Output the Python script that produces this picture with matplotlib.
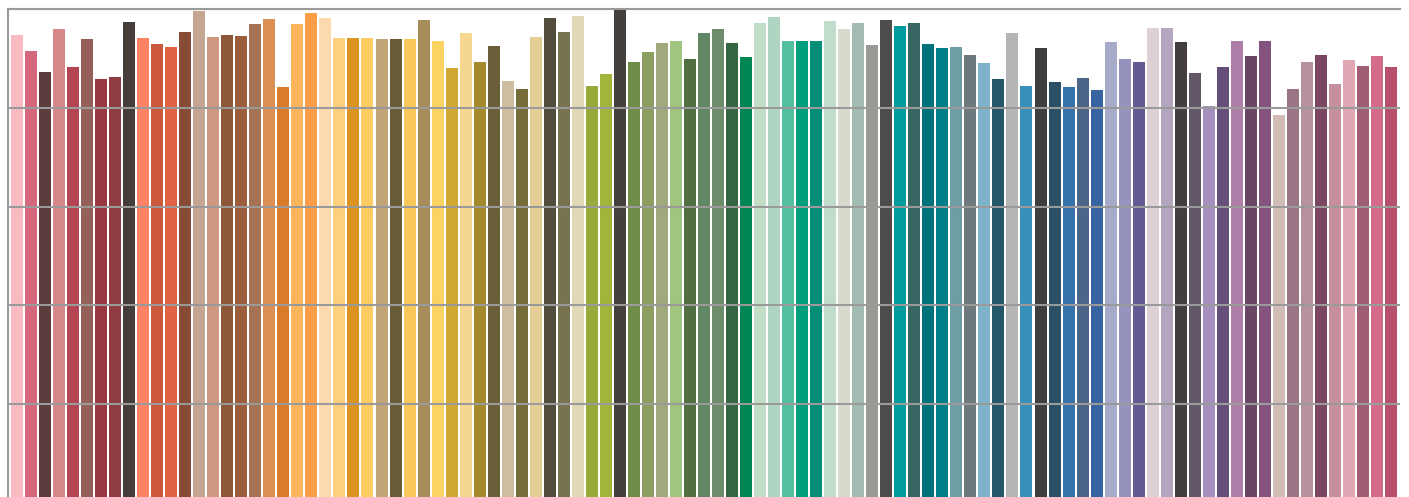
import matplotlib
matplotlib.use('Agg')
import matplotlib.pyplot as plt

# bar heights (0-100 scale, gridlines every 20)
values = [94.8, 91.5, 87.3, 96.0, 88.3, 94.0, 85.9, 86.3, 97.4, 94.2,
          93.0, 92.4, 95.4, 99.6, 94.4, 94.8, 94.6, 97.0, 98.0, 84.3,
          97.0, 99.2, 98.2, 94.2, 94.2, 94.2, 94.0, 94.0, 94.0, 97.8,
          93.6, 88.1, 95.2, 89.3, 92.6, 85.5, 83.8, 94.4, 98.2, 95.4,
          98.6, 84.5, 86.9, 99.8, 89.3, 91.3, 93.2, 93.6, 89.9, 95.2,
          96.0, 93.2, 90.3, 97.2, 98.4, 93.6, 93.6, 93.6, 97.6, 96.0,
          97.2, 92.8, 97.8, 96.6, 97.2, 93.0, 92.2, 92.4, 90.7, 89.1,
          85.9, 95.2, 84.5, 92.2, 85.3, 84.3, 86.1, 83.6, 93.4, 89.9,
          89.3, 96.2, 96.2, 93.4, 87.1, 80.4, 88.3, 93.6, 90.5, 93.6,
          78.6, 83.8, 89.3, 90.7, 84.9, 89.7, 88.5, 90.5, 88.3]

colors = ['#F9BBC1', '#D4677B', '#5C3B3D', '#D68787', '#B54553', '#96605A', '#9A3842', '#8E3C41', '#453D3A', '#FF8265',
          '#CB573D', '#E26245', '#874B36', '#C5A693', '#D09880', '#8E5737', '#9A5E3C', '#A57354', '#DC8F52', '#DA7B2A',
          '#FDB55C', '#FD9E46', '#FDDAAE', '#FED07E', '#DC9320', '#FFCC62', '#C2A677', '#6A5B37', '#F8C95A', '#A78D5B',
          '#FBD362', '#D1A932', '#F5D792', '#A5892D', '#6A5D37', '#CFBDA2', '#766C39', '#E3CF93', '#514C3C', '#77734E',
          '#E1D8B5', '#99A93A', '#A2B43A', '#45403B', '#6E8E48', '#8D9E63', '#A0A87E', '#A0C57E', '#516F40', '#618765',
          '#6D8C6C', '#356642', '#008555', '#C1DEC8', '#AFD5C2', '#52BF9F', '#009E7C', '#008F77', '#C0DDCC', '#D9DACE',
          '#A2BCB2', '#999A95', '#4D4C4A', '#009C9D', '#376663', '#00727A', '#007E87', '#6C9EA3', '#6D797D', '#7EB3CB',
          '#25576A', '#B4B5B4', '#3690BA', '#403E3D', '#2C4F68', '#3571AA', '#4A6587', '#3764A0', '#A5ABC8', '#9593BC',
          '#645A92', '#DED1D6', '#B4A6BF', '#433D41', '#625766', '#A58FBE', '#664E7A', '#AE7EA9', '#6B4566', '#83527E',
          '#D1BDB5', '#9B7585', '#B5929D', '#7B4661', '#C7909F', '#E1A7B5', '#A05E74', '#D56B8A', '#B7506D']

W, H = 1409, 497
fig = plt.figure(figsize=(W / 100, H / 100), dpi=100)
ax = fig.add_axes([8 / W, (H - 503) / H, 1392 / W, 494 / H])

x = list(range(len(values)))
ax.bar(x, values, width=0.856, color=colors, edgecolor='none', zorder=1)

ax.set_xlim(-0.64, 98.64)
ax.set_ylim(0, 100)
ax.set_yticks([0, 20, 40, 60, 80, 100])
ax.set_xticks([])
ax.tick_params(axis='y', length=0, labelleft=False)
ax.grid(axis='y', color='#9a9a9a', linewidth=1.5, zorder=3)
ax.set_axisbelow(False)

for side in ['right', 'bottom']:
    ax.spines[side].set_visible(False)
for side in ['left', 'top']:
    ax.spines[side].set_color('#9a9a9a')
    ax.spines[side].set_linewidth(1.5)
    ax.spines[side].set_zorder(0.5)

fig.savefig('out.png', dpi=100)
